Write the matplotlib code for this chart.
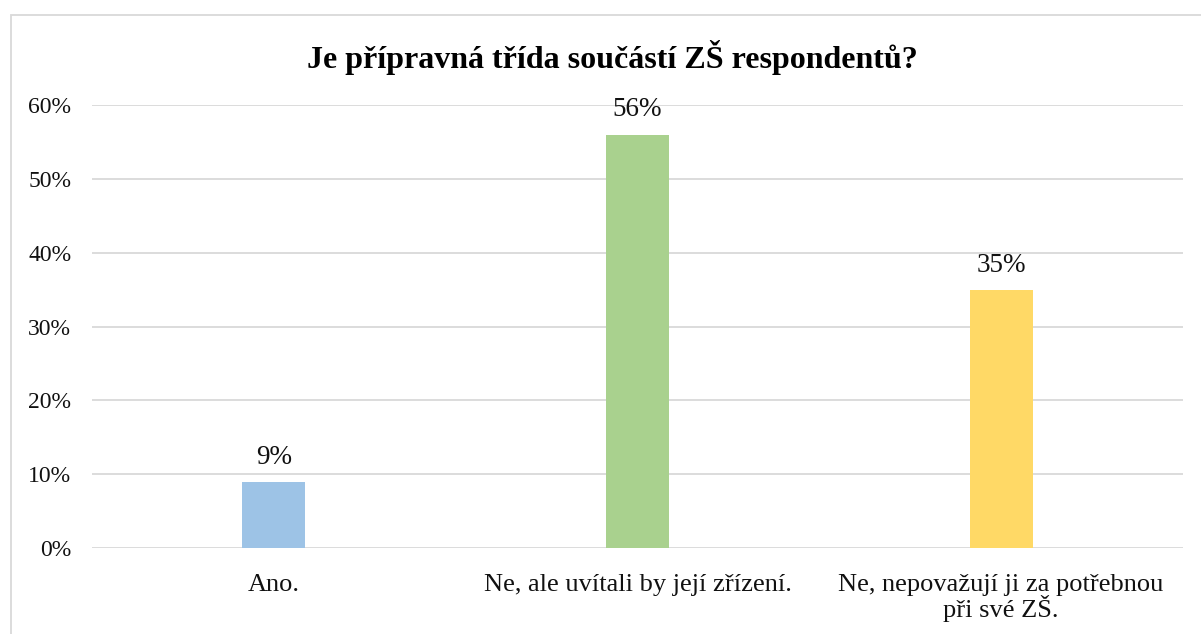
import matplotlib
matplotlib.use('Agg')
import matplotlib.pyplot as plt
from matplotlib.patches import Rectangle
from matplotlib.ticker import PercentFormatter

categories = ['Ano.', 'Ne, ale uvítali by její zřízení.', 'Ne, nepovažují ji za potřebnou\npři své ZŠ.']
values = [0.09, 0.56, 0.35]
colors = ['#9DC3E6', '#A9D18E', '#FFD966']
title = 'Je přípravná třída součástí ZŠ respondentů?'

plt.rcParams['font.family'] = ['Liberation Serif', 'DejaVu Serif']

fig = plt.figure(figsize=(12.01, 6.34), dpi=100)
ax = fig.add_axes([0.0766, 0.1356, 0.9084, 0.6988])

x = range(len(categories))
bars = ax.bar(x, values, width=0.173, color=colors, zorder=3)

# data labels above each bar
for b, v in zip(bars, values):
    ax.annotate(f'{v:.0%}', (b.get_x() + b.get_width() / 2, v),
                xytext=(0, 13), textcoords='offset points',
                ha='center', va='baseline', fontsize=19.5, color='#111111')

ax.set_xlim(-0.5, len(categories) - 0.5)
ax.set_ylim(0, 0.6)
ax.set_yticks([0, 0.1, 0.2, 0.3, 0.4, 0.5, 0.6])
ax.yaxis.set_major_formatter(PercentFormatter(1.0, decimals=0))
ax.set_xticks(list(x))
ax.set_xticklabels(categories, fontsize=19, linespacing=0.95)
ax.tick_params(axis='y', labelsize=17, length=0, pad=15, labelcolor='#111111')
ax.tick_params(axis='x', length=0, pad=19, labelcolor='#111111')
ax.grid(axis='y', color='#D9D9D9', linewidth=1.3, zorder=0)
for s in ax.spines.values():
    s.set_visible(False)

fig.text(0.51, 0.91, title, ha='center', va='center', fontsize=23, fontweight='bold')

# chart frame, cut off at the right and bottom edges
fig.patches.append(Rectangle((11 / 1201, -0.01), 1.2, 1 - 15 / 634 + 0.01,
                             transform=fig.transFigure, fill=False,
                             edgecolor='#D9D9D9', linewidth=1.3))

fig.savefig('out.png', dpi=100)
